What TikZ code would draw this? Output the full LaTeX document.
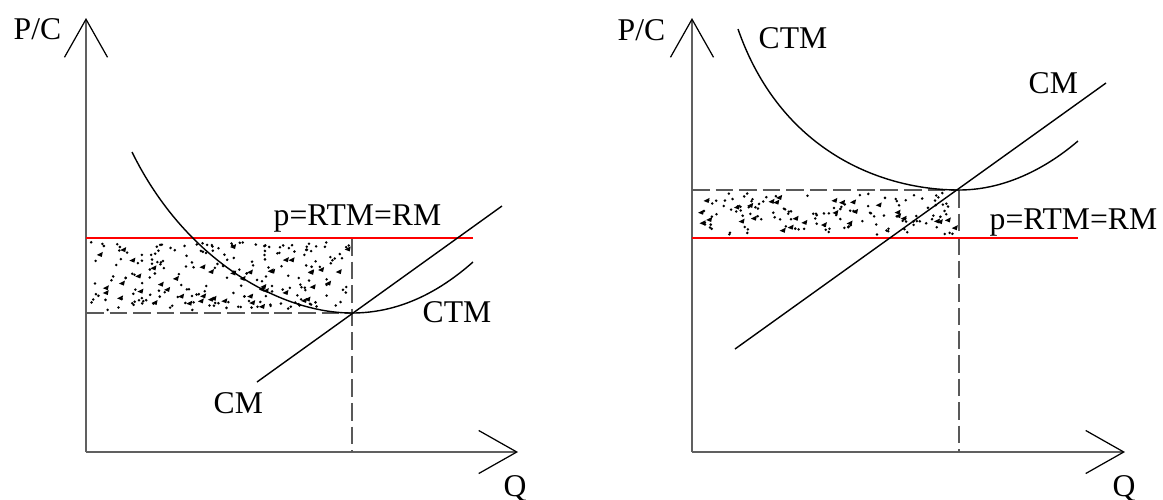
\documentclass[tikz,border=0pt]{standalone}
\usepackage{fontspec}
\setmainfont{Liberation Serif}
\usetikzlibrary{arrows.meta}

\tikzset{
  axis/.style={gray!75!black, line width=0.55pt,
    -{Straight Barb[black, length=3.8mm, width=4.3mm, line width=0.35pt]}},
  curve/.style={black, line width=0.4pt},
  price/.style={red, line width=0.45pt},
  guide/.style={gray!70!black, line width=0.55pt, dash pattern=on 5pt off 1.7pt},
  lbl/.style={font=\fontsize{9}{11}\selectfont, inner sep=0pt, anchor=base west},
}

\begin{document}
\begin{tikzpicture}[x=0.01cm, y=-0.01cm]
    \useasboundingbox (0,0) rectangle (1163,499);

    % --- 定义坐标和参数 ---
    \def\base{452}       % 横轴高度
    \def\ytop{18}        % 纵轴箭头
    \def\price{238}      % 价格线 p=RTM=RM
    % 左图
    \def\Lx{86}          % 左图纵轴
    \def\Lq{352}         % 左图产量 Q*
    \def\Lc{313}         % 左图 CTM 最低点
    % 右图
    \def\Rx{692}         % 右图纵轴
    \def\Rq{959}         % 右图产量 Q*
    \def\Rc{190}         % 右图 CTM 最低点

    % --- 点状阴影 (利润 / 亏损区域) ---
    \pgfmathsetseed{17}
    \foreach \xa/\ya/\xb/\yb in {\Lx/\price/\Lq/\Lc, \Rx/\Rc/\Rq/\price} {
        \pgfmathtruncatemacro\nd{(\xb-\xa)/100*(\yb-\ya)}
        \foreach \i in {1,...,\nd} {
            \pgfmathsetmacro\px{\xa+3+rnd*(\xb-\xa-6)}
            \pgfmathsetmacro\py{\ya+3+rnd*(\yb-\ya-6)}
            \fill (\px,\py) circle[radius=0.4pt];
        }
        \pgfmathtruncatemacro\nt{(\xb-\xa)/420*(\yb-\ya)}
        \foreach \i in {1,...,\nt} {
            \pgfmathsetmacro\px{\xa+6+rnd*(\xb-\xa-12)}
            \pgfmathsetmacro\py{\ya+6+rnd*(\yb-\ya-12)}
            \fill (\px,\py) -- ++(6,-3) -- ++(-1,5) -- cycle;
        }
    }

    % --- 左图：坐标轴 ---
    \draw[axis] (\Lx,\base) -- (\Lx,\ytop);
    \draw[axis] (\Lx,\base) -- (518,\base);
    \node[lbl] (pcL) at (13,39) {P/C};
    \node[lbl] (qL) at (503,496) {Q};

    % 辅助虚线
    \draw[guide] (\Lx,\Lc) -- (\Lq,\Lc);
    \draw[guide] (\Lq,\price) -- (\Lq,\base);

    % 价格线
    \draw[price] (\Lx,\price) -- (473,\price);
    \node[lbl] (pL) at (273,225) {p=RTM=RM};

    % CTM 与 CM
    \draw[curve] (132,152) .. controls (185,260) and (280,313) .. (\Lq,\Lc)
                 .. controls (398,313) and (438,293) .. (473,262);
    \node[lbl] (ctmL) at (422,322) {CTM};
    \draw[curve] (257,382) -- (502,206);
    \node[lbl] (cmL) at (213,413) {CM};

    % --- 右图：坐标轴 ---
    \draw[axis] (\Rx,\base) -- (\Rx,\ytop);
    \draw[axis] (\Rx,\base) -- (1125,\base);
    \node[lbl] (pcR) at (617,40) {P/C};
    \node[lbl] (qR) at (1112,496) {Q};

    % 辅助虚线
    \draw[guide] (\Rx,\Rc) -- (\Rq,\Rc);
    \draw[guide] (\Rq,\Rc) -- (\Rq,\base);

    % 价格线
    \draw[price] (\Rx,\price) -- (1078,\price);
    \node[lbl] (pR) at (989,229) {p=RTM=RM};

    % CTM 与 CM
    \draw[curve] (738,29) .. controls (780,150) and (880,190) .. (\Rq,\Rc)
                 .. controls (1008,190) and (1050,165) .. (1078,141);
    \node[lbl] (ctmR) at (758,48) {CTM};
    \draw[curve] (735,349) -- (1106,83);
    \node[lbl] (cmR) at (1028,93) {CM};

\end{tikzpicture}
\end{document}
